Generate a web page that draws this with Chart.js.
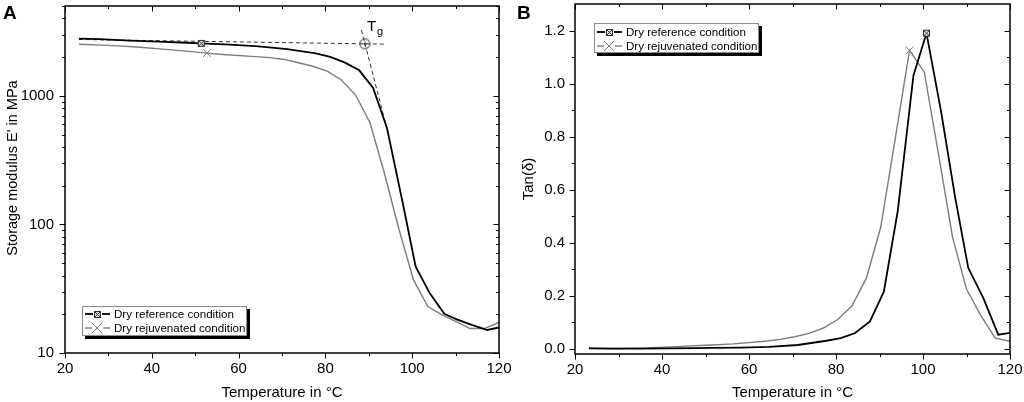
<!DOCTYPE html>
<html>
<head>
<meta charset="utf-8">
<script src="https://cdn.jsdelivr.net/npm/chart.js@4.4.0/dist/chart.umd.min.js"></script>
<style>
html, body { margin: 0; padding: 0; background: #fff; }
#wrap { position: relative; width: 1024px; height: 402px; overflow: hidden; font-family: "Liberation Sans", Arial, sans-serif; color: #000; }
#wrap canvas { position: absolute; top: 0; }
#cA { left: 0; }
#cB { left: 512px; }
.panel { position: absolute; font-weight: bold; font-size: 19px; line-height: 1; }
.legend { position: absolute; width: 163px; height: 28px; border: 1px solid #8c8c8c; box-shadow: 3px 3px 0 #000; background: #fff; font-size: 11.6px; }
.row { position: absolute; left: 2px; height: 14px; line-height: 14px; white-space: nowrap; }
.row svg { position: absolute; left: 0; top: 0; }
.row span { position: absolute; left: 29px; top: 0; }
.tg { position: absolute; line-height: 1; }
.ytitle { position: absolute; font-size: 14.5px; line-height: 1; white-space: nowrap; transform: translate(-50%, -50%) rotate(-90deg); }
</style>
</head>
<body>
<div id="wrap">
  <canvas id="cA" width="512" height="402"></canvas>
  <canvas id="cB" width="512" height="402"></canvas>

  <div class="panel" style="left:3px; top:3px;">A</div>
  <div class="panel" style="left:517px; top:3px;">B</div>

  <div class="ytitle" style="left:12px; top:167.5px;">Storage modulus E' in MPa</div>

  <div class="tg" style="left:367px; top:18px; font-size:15px;">T</div>
  <div class="tg" style="left:377px; top:26px; font-size:11px;">g</div>

  <div class="legend" style="left:82px; top:306px;">
    <div class="row" style="top:0px;">
      <svg width="27" height="14"><line x1="0" y1="7" x2="8" y2="7" stroke="#000" stroke-width="1.8"/><rect x="9.5" y="4.5" width="6" height="6" fill="#ddd" stroke="#333"/><path d="M9.5 4.5L15.5 10.5M15.5 4.5L9.5 10.5" stroke="#333" fill="none"/><line x1="17" y1="7" x2="25" y2="7" stroke="#000" stroke-width="1.8"/></svg>
      <span>Dry reference condition</span>
    </div>
    <div class="row" style="top:14px;">
      <svg width="27" height="14"><line x1="0" y1="7" x2="7" y2="7" stroke="#7d7d7d" stroke-width="1.4"/><path d="M7 2L17 12M17 2L7 12" stroke="#7d7d7d" fill="none"/><line x1="18" y1="7" x2="25" y2="7" stroke="#7d7d7d" stroke-width="1.4"/></svg>
      <span>Dry rejuvenated condition</span>
    </div>
  </div>

  <div class="legend" style="left:594px; top:23px;">
    <div class="row" style="top:1px;">
      <svg width="27" height="14"><line x1="0" y1="7" x2="8" y2="7" stroke="#000" stroke-width="1.8"/><rect x="9.5" y="4.5" width="6" height="6" fill="#ddd" stroke="#333"/><path d="M9.5 4.5L15.5 10.5M15.5 4.5L9.5 10.5" stroke="#333" fill="none"/><line x1="17" y1="7" x2="25" y2="7" stroke="#000" stroke-width="1.8"/></svg>
      <span>Dry reference condition</span>
    </div>
    <div class="row" style="top:15px;">
      <svg width="27" height="14"><line x1="0" y1="7" x2="7" y2="7" stroke="#7d7d7d" stroke-width="1.4"/><path d="M7 2L17 12M17 2L7 12" stroke="#7d7d7d" fill="none"/><line x1="18" y1="7" x2="25" y2="7" stroke="#7d7d7d" stroke-width="1.4"/></svg>
      <span>Dry rejuvenated condition</span>
    </div>
  </div>
</div>

<script>
// dry reference condition (same temperature steps for E' and tan delta)
const tempRef = [23.2, 28.0, 34.9, 41.5, 48.1, 51.4, 58.0, 64.6, 71.2, 77.8, 81.1, 84.4, 87.8, 91.0, 94.2, 97.8, 100.8, 104.1, 107.4, 110.4, 113.9, 117.3, 120.0];
const modulusRef = [2790, 2760, 2690, 2640, 2590, 2560, 2500, 2430, 2310, 2140, 2010, 1820, 1580, 1150, 560, 148, 47, 29, 20.2, 18.2, 16.5, 15.1, 15.8];
const tanRef = [0.001, 0.0, 0.0, 0.001, 0.002, 0.003, 0.004, 0.007, 0.014, 0.03, 0.04, 0.059, 0.103, 0.215, 0.52, 1.03, 1.19, 0.9, 0.57, 0.305, 0.19, 0.053, 0.06];

// dry rejuvenated condition
const tempRej = [23.2, 30.0, 36.6, 43.2, 49.8, 52.7, 56.4, 63.0, 67.2, 70.5, 73.8, 77.1, 80.4, 83.7, 87.0, 90.3, 93.6, 96.9, 100.3, 103.6, 106.8, 110.0, 113.3, 116.6, 120.0];
const modulusRej = [2520, 2470, 2400, 2300, 2200, 2150, 2100, 2030, 1985, 1920, 1810, 1700, 1560, 1330, 1010, 615, 250, 93, 37, 23, 19.9, 17.6, 15.5, 15.5, 17.3];
const tanRej = [0.002, 0.001, 0.003, 0.008, 0.013, 0.015, 0.018, 0.027, 0.035, 0.045, 0.058, 0.078, 0.11, 0.162, 0.267, 0.46, 0.79, 1.125, 1.043, 0.73, 0.42, 0.225, 0.125, 0.04, 0.028];

// Tg construction in panel A
const tangentFlatT = [23.2, 93.7];
const tangentFlatE = [2745, 2525];
const tangentSteepT = [88.3, 94.4];
const tangentSteepE = [3250, 520];
const tgT = [89.1];
const tgE = [2540];

// where the single symbol of each curve sits
const markRefA = 51.4, markRejA = 52.7;
const markRefB = 100.8, markRejB = 96.9;

// ticks
const tempTicks = [20, 40, 60, 80, 100, 120];
const tempMinor = [30, 50, 70, 90, 110];
const modTicks = [10, 100, 1000];
const modMinor = [20, 30, 40, 50, 60, 70, 80, 90, 200, 300, 400, 500, 600, 700, 800, 900, 2000, 3000, 4000, 5000];
const tanTicks = [0, 0.2, 0.4, 0.6, 0.8, 1.0, 1.2];
const tanMinor = [0.1, 0.3, 0.5, 0.7, 0.9, 1.1];

const GREY = '#7d7d7d';
const FONT = { family: '"Liberation Sans", Arial, sans-serif', size: 15 };

function squareX() {
    const c = document.createElement('canvas');
    c.width = 9; c.height = 9;
    const g = c.getContext('2d');
    g.fillStyle = '#ddd';
    g.fillRect(1.5, 1.5, 6, 6);
    g.strokeStyle = '#333';
    g.lineWidth = 1;
    g.strokeRect(1.5, 1.5, 6, 6);
    g.beginPath();
    g.moveTo(1.5, 1.5); g.lineTo(7.5, 7.5);
    g.moveTo(7.5, 1.5); g.lineTo(1.5, 7.5);
    g.stroke();
    return c;
}

function circlePlus() {
    const c = document.createElement('canvas');
    c.width = 13; c.height = 13;
    const g = c.getContext('2d');
    g.strokeStyle = '#222';
    g.lineWidth = 1;
    g.beginPath();
    g.arc(6.5, 6.5, 5, 0, Math.PI * 2);
    g.moveTo(6.5, 4.5); g.lineTo(6.5, 8.5);
    g.moveTo(4.5, 6.5); g.lineTo(8.5, 6.5);
    g.stroke();
    return c;
}

const pts = (xs, ys) => xs.map((x, i) => ({ x: x, y: ys[i] }));
const markAt = (xs, t, r) => (ctx) => (xs[ctx.dataIndex] === t ? r : 0);

// box around the plot with ticks on all four sides (out on bottom/left, in on top/right)
const frameTicks = {
    id: 'frameTicks',
    afterDatasetsDraw(chart, args, opts) {
        const { ctx, chartArea: a, scales } = chart;
        const x = scales.x, y = scales.y;
        ctx.save();
        ctx.strokeStyle = '#000';
        ctx.lineWidth = 1;
        ctx.beginPath();
        const xt = (vals, len) => vals.forEach(v => {
            const p = Math.round(x.getPixelForValue(v)) + 0.5;
            ctx.moveTo(p, a.bottom); ctx.lineTo(p, a.bottom + len);
            ctx.moveTo(p, a.top); ctx.lineTo(p, a.top + len);
        });
        const yt = (vals, len) => vals.forEach(v => {
            const p = Math.round(y.getPixelForValue(v)) + 0.5;
            ctx.moveTo(a.left - len, p); ctx.lineTo(a.left, p);
            ctx.moveTo(a.right - len, p); ctx.lineTo(a.right, p);
        });
        xt(opts.xMajor, 5.5); xt(opts.xMinor, 3);
        yt(opts.yMajor, 5.5); yt(opts.yMinor, 3);
        ctx.stroke();
        ctx.lineWidth = 1.5;
        ctx.strokeRect(a.left, a.top, a.right - a.left, a.bottom - a.top);
        ctx.restore();
    }
};

function xScale(height) {
    return {
        type: 'linear', min: 20, max: 120,
        afterBuildTicks: s => { s.ticks = tempTicks.map(v => ({ value: v })); },
        afterFit: s => { s.height = height; s.paddingLeft = 0; s.paddingRight = 0; },
        ticks: { font: FONT, color: '#000', padding: 7, maxRotation: 0, autoSkip: false },
        grid: { display: false, drawTicks: false },
        border: { display: false },
        title: { display: true, text: 'Temperature in °C', font: FONT, color: '#000', padding: 0 }
    };
}

const baseOptions = {
    responsive: false,
    animation: false,
    events: [],
    plugins: { legend: { display: false }, tooltip: { enabled: false } }
};

new Chart(document.getElementById('cA'), {
    type: 'scatter',
    data: {
        datasets: [
            {
                data: pts(tempRef, modulusRef), showLine: true,
                borderColor: '#000', borderWidth: 1.8,
                pointStyle: squareX(), pointRadius: markAt(tempRef, markRefA, 4)
            },
            {
                data: pts(tempRej, modulusRej), showLine: true,
                borderColor: GREY, borderWidth: 1.4,
                pointStyle: 'crossRot', pointBorderColor: GREY, pointBorderWidth: 1,
                pointRadius: markAt(tempRej, markRejA, 5.5)
            },
            {
                data: pts(tangentFlatT, tangentFlatE), showLine: true,
                borderColor: '#333', borderWidth: 1, borderDash: [4, 3], pointRadius: 0
            },
            {
                data: pts(tangentSteepT, tangentSteepE), showLine: true,
                borderColor: '#333', borderWidth: 1, borderDash: [4, 3], pointRadius: 0
            },
            {
                data: pts(tgT, tgE), showLine: false,
                pointStyle: circlePlus(), pointRadius: 5
            }
        ]
    },
    options: Object.assign({}, baseOptions, {
        layout: { padding: { top: 3, right: 13, left: 0, bottom: 0 } },
        scales: {
            x: xScale(49),
            y: {
                type: 'logarithmic', min: 10, max: 5000,
                afterBuildTicks: s => { s.ticks = modTicks.map(v => ({ value: v })); },
                afterFit: s => { s.width = 65; s.paddingTop = 0; s.paddingBottom = 0; },
                ticks: { font: FONT, color: '#000', padding: 11, autoSkip: false, callback: v => String(v) },
                grid: { display: false, drawTicks: false },
                border: { display: false },
                title: { display: false }
            }
        },
        plugins: Object.assign({}, baseOptions.plugins, {
            frameTicks: { xMajor: tempTicks, xMinor: tempMinor, yMajor: modTicks, yMinor: modMinor }
        })
    }),
    plugins: [frameTicks]
});

new Chart(document.getElementById('cB'), {
    type: 'scatter',
    data: {
        datasets: [
            {
                data: pts(tempRef, tanRef), showLine: true,
                borderColor: '#000', borderWidth: 1.8,
                pointStyle: squareX(), pointRadius: markAt(tempRef, markRefB, 4)
            },
            {
                data: pts(tempRej, tanRej), showLine: true,
                borderColor: GREY, borderWidth: 1.4,
                pointStyle: 'crossRot', pointBorderColor: GREY, pointBorderWidth: 1,
                pointRadius: markAt(tempRej, markRejB, 5.5)
            }
        ]
    },
    options: Object.assign({}, baseOptions, {
        layout: { padding: { top: 4, right: 14, left: 0, bottom: 0 } },
        scales: {
            x: xScale(48),
            y: {
                type: 'linear', min: -0.02, max: 1.3,
                afterBuildTicks: s => { s.ticks = tanTicks.map(v => ({ value: v })); },
                afterFit: s => { s.width = 63; s.paddingTop = 0; s.paddingBottom = 0; },
                ticks: { font: FONT, color: '#000', padding: 10, autoSkip: false, callback: v => v.toFixed(1) },
                grid: { display: false, drawTicks: false },
                border: { display: false },
                title: { display: true, text: 'Tan(δ)', font: FONT, color: '#000', padding: { top: 8, bottom: 0 } }
            }
        },
        plugins: Object.assign({}, baseOptions.plugins, {
            frameTicks: { xMajor: tempTicks, xMinor: tempMinor, yMajor: tanTicks, yMinor: tanMinor }
        })
    }),
    plugins: [frameTicks]
});
</script>
</body>
</html>
